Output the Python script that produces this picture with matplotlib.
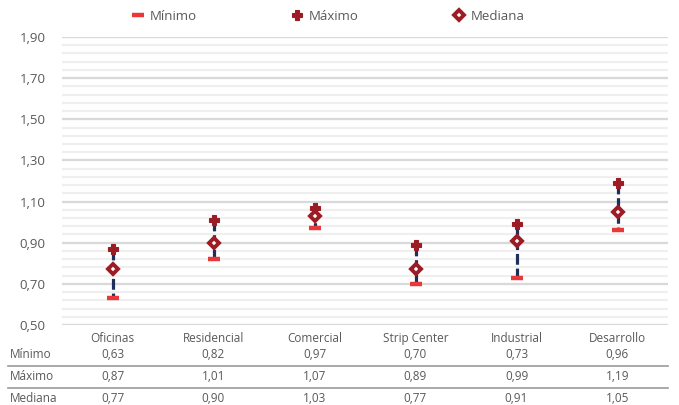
import matplotlib
matplotlib.use("Agg")
import matplotlib.pyplot as plt
import numpy as np
from matplotlib.transforms import blended_transform_factory
from matplotlib.lines import Line2D

categories = ["Oficinas", "Residencial", "Comercial", "Strip Center", "Industrial", "Desarrollo"]
minimo = [0.63, 0.82, 0.97, 0.70, 0.73, 0.96]
maximo = [0.87, 1.01, 1.07, 0.89, 0.99, 1.19]
mediana = [0.77, 0.90, 1.03, 0.77, 0.91, 1.05]
row_labels = ["Mínimo", "Máximo", "Mediana"]

plt.rcParams['font.family'] = ['Open Sans', 'DejaVu Sans']
TXT = '#595959'
NAVY = '#1f2f5c'
RED = '#e8383a'
DARK = '#9b1c24'

fig = plt.figure(figsize=(6.79, 4.05), dpi=100)
W, H = 679, 405
ax = fig.add_axes([62 / W, 1 - 325 / H, (668 - 62) / W, (325 - 37) / H])

x = np.arange(len(categories))
ax.set_xlim(-0.5, len(categories) - 0.5)
ax.set_ylim(0.5, 1.9)

# grid
for v in np.arange(0.5, 1.9001, 0.04):
    ax.axhline(v, color='#efefef', lw=1.6, zorder=0)
for v in np.arange(0.5, 1.9001, 0.2):
    ax.axhline(v, color='#d9d9d9', lw=1.6, zorder=0.5)

for xi, lo, hi in zip(x, minimo, maximo):
    ax.plot([xi, xi], [hi, lo], color=NAVY, lw=2.3, linestyle=(0, (3.4, 1.2)), zorder=2,
            solid_capstyle='butt', dash_capstyle='butt')
ax.plot(x, minimo, linestyle='none', marker='_', markersize=8.5, markeredgewidth=3.2,
        color=RED, markeredgecolor=RED, zorder=3)
ax.plot(x, maximo, linestyle='none', marker='P', markersize=7, color=DARK,
        markeredgecolor=DARK, markeredgewidth=0.8, zorder=3)
ax.plot(x, mediana, linestyle='none', marker='D', markersize=5.0, markerfacecolor='white',
        markeredgecolor=DARK, markeredgewidth=2.8, zorder=4)

yt = np.arange(0.5, 1.9001, 0.2)
ax.set_yticks(yt)
ax.set_yticklabels([f"{v:.2f}".replace('.', ',') for v in yt], fontsize=9.5, color=TXT)
ax.set_xticks(x)
ax.set_xticklabels(categories, fontsize=8.5, color=TXT)
ax.tick_params(axis='both', length=0)
ax.tick_params(axis='x', pad=5)
ax.tick_params(axis='y', pad=12)
for s in ax.spines.values():
    s.set_visible(False)

# table
tr = blended_transform_factory(ax.transData, fig.transFigure)
rows = [minimo, maximo, mediana]
row_y = [355, 377, 399]
for lab, vals, yy in zip(row_labels, rows, row_y):
    fy = 1 - yy / H
    fig.text(10 / W, fy, lab, fontsize=8.5, color=TXT, va='center', ha='left')
    for xi, v in zip(x, vals):
        ax.text(xi, fy, f"{v:.2f}".replace('.', ','), transform=tr, fontsize=8.5,
                color=TXT, ha='center', va='center', clip_on=False)
for yy in [366, 388]:
    fig.add_artist(Line2D([8 / W, 668 / W], [1 - yy / H, 1 - yy / H], color='#999999', lw=1.2))

handles = [
    Line2D([], [], linestyle='none', marker='_', markersize=8.5, markeredgewidth=3.2, color=RED),
    Line2D([], [], linestyle='none', marker='P', markersize=7, color=DARK,
           markeredgecolor=DARK, markeredgewidth=0.8),
    Line2D([], [], linestyle='none', marker='D', markersize=5.0, markerfacecolor='white',
           markeredgecolor=DARK, markeredgewidth=2.8),
]
fig.legend(handles, row_labels, loc='center', bbox_to_anchor=(328 / W, 1 - 16 / H), ncol=3,
           frameon=False, fontsize=9.5, labelcolor=TXT, columnspacing=7.1, handletextpad=0.4,
           handlelength=1.0)

fig.savefig('out.png', dpi=100)
